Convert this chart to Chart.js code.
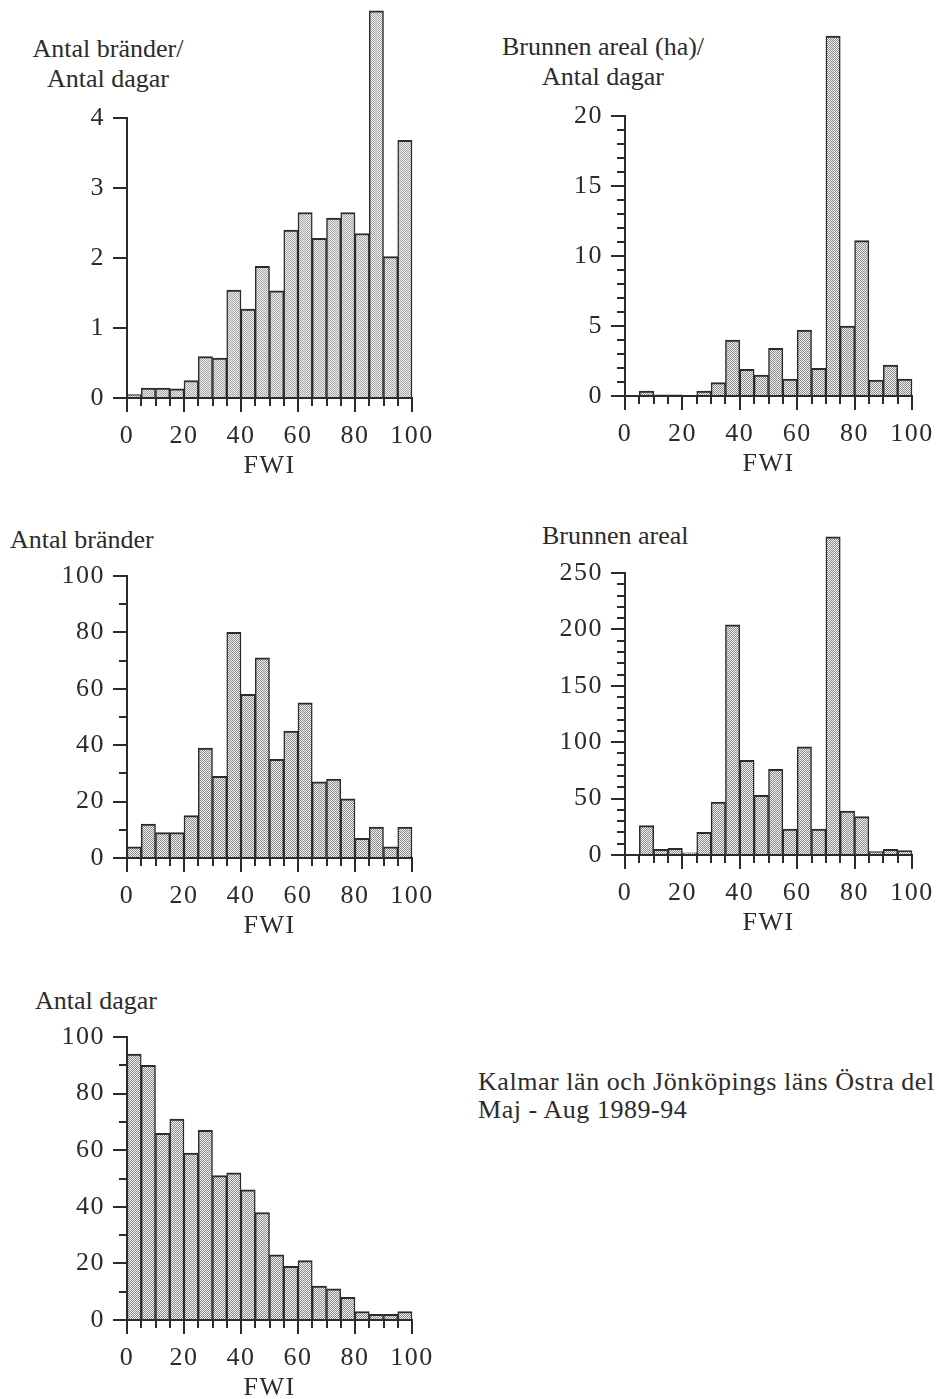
<!DOCTYPE html>
<html>
<head>
<meta charset="utf-8">
<script src="https://cdn.jsdelivr.net/npm/chart.js@4.4.1/dist/chart.umd.min.js"></script>
<style>
  html, body { margin: 0; padding: 0; background: #fff; }
  #page {
    position: relative; width: 939px; height: 1399px; overflow: hidden; background: #fff;
    font-family: "Liberation Serif", "Times New Roman", serif; color: #2b2b2b;
  }
  .lbl { position: absolute; font-size: 26px; line-height: 30px; white-space: nowrap; }
  .center { text-align: center; }
  canvas { position: absolute; }
</style>
</head>
<body>
<div id="page">
  <div class="lbl center" style="left:8px; top:34px; width:200px;">Antal bränder/<br>Antal dagar</div>
  <div class="lbl center" style="left:498px; top:32px; width:210px;">Brunnen areal (ha)/<br>Antal dagar</div>
  <div class="lbl" style="left:10px; top:525px;">Antal bränder</div>
  <div class="lbl" style="left:542px; top:521px;">Brunnen areal</div>
  <div class="lbl" style="left:35px; top:986px;">Antal dagar</div>
  <div class="lbl" style="left:478px; top:1068px; line-height:28px; letter-spacing:0.55px;">Kalmar län och Jönköpings läns Östra del<br>Maj - Aug 1989-94</div>
</div>
<script>
// FWI classes, 5 units wide, from 0 to 100
const BIN_WIDTH = 5;
const fwiBinStart = [0, 5, 10, 15, 20, 25, 30, 35, 40, 45, 50, 55, 60, 65, 70, 75, 80, 85, 90, 95];

// Fires per day in each FWI class
const brandPerDag = [0.05, 0.14, 0.14, 0.13, 0.25, 0.59, 0.57, 1.54, 1.27, 1.88,
                     1.53, 2.40, 2.65, 2.28, 2.57, 2.65, 2.35, 5.53, 2.02, 3.68];
// Burnt area (ha) per day in each FWI class
const arealPerDag = [0, 0.36, 0.08, 0.08, 0, 0.36, 0.95, 4.0, 1.9, 1.5,
                     3.4, 1.2, 4.7, 1.97, 25.7, 5.0, 11.1, 1.14, 2.2, 1.2];
// Number of fires
const antalBrander = [4, 12, 9, 9, 15, 39, 29, 80, 58, 71,
                      35, 45, 55, 27, 28, 21, 7, 11, 4, 11];
// Burnt area (ha)
const brunnenAreal = [0, 26, 5, 6, 2, 20, 47, 204, 84, 53,
                      76, 23, 96, 23, 282, 39, 34, 3, 5, 4];
// Number of days
const antalDagar = [94, 90, 66, 71, 59, 67, 51, 52, 46, 38,
                    23, 19, 21, 12, 11, 8, 3, 2, 2, 3];

// Axis tick steps
const xTickStep = 20, xMinorStep = 5;

const INK = '#2b2b2b';
const FONT = '"Liberation Serif", "Times New Roman", serif';

// Stippled fill like a printed halftone
function stipple(dark, light) {
  const c = document.createElement('canvas');
  c.width = 2; c.height = 2;
  const g = c.getContext('2d');
  g.fillStyle = light; g.fillRect(0, 0, 2, 2);
  g.fillStyle = dark; g.fillRect(0, 0, 1, 1); g.fillRect(1, 1, 1, 1);
  return g.createPattern(c, 'repeat');
}

// Short minor tick marks on both axes
const minorTicks = {
  id: 'minorTicks',
  afterDraw(chart, args, opts) {
    const { ctx, scales: { x, y } } = chart;
    ctx.save();
    ctx.strokeStyle = INK;
    ctx.lineWidth = 2;
    ctx.beginPath();
    for (let v = x.min; v <= x.max; v += opts.xStep) {
      if (v % opts.xMajor === 0) continue;
      const px = Math.round(x.getPixelForValue(v));
      ctx.moveTo(px, y.bottom); ctx.lineTo(px, y.bottom + opts.len);
    }
    if (opts.yStep) {
      for (let v = y.min; v <= y.max + 1e-9; v += opts.yStep) {
        if (Math.abs(v / opts.yMajor - Math.round(v / opts.yMajor)) < 1e-9) continue;
        const py = Math.round(y.getPixelForValue(v));
        ctx.moveTo(x.left, py); ctx.lineTo(x.left - opts.len, py);
      }
    }
    ctx.stroke();
    ctx.restore();
  }
};

// Wider letter spacing for the axis lettering
const spacing = {
  id: 'spacing',
  beforeUpdate(chart) { chart.ctx.letterSpacing = '1.5px'; },
  beforeDraw(chart) { chart.ctx.letterSpacing = '1.5px'; }
};

const PAD_L = 110, PAD_T = 115, PAD_R = 35, PAD_B = 85;

function histogram(box, values, yMax, yStep, yMinor, fill) {
  const cv = document.createElement('canvas');
  const w = box.R - box.L + PAD_L + PAD_R;
  const h = box.B - box.T + PAD_T + PAD_B;
  cv.width = w; cv.height = h;
  cv.style.left = (box.L - PAD_L) + 'px';
  cv.style.top = (box.T - PAD_T) + 'px';
  cv.style.width = w + 'px'; cv.style.height = h + 'px';
  document.getElementById('page').appendChild(cv);

  const tickFont = { family: FONT, size: 26 };
  return new Chart(cv, {
    type: 'bar',
    data: {
      datasets: [{
        data: fwiBinStart.map((s, i) => ({ x: s + BIN_WIDTH / 2, y: values[i] })),
        backgroundColor: fill,
        borderColor: INK,
        borderWidth: { top: 2, left: 1.5, right: 1.5, bottom: 0 },
        borderSkipped: 'start',
        barPercentage: 1,
        categoryPercentage: 1,
        clip: false
      }]
    },
    options: {
      responsive: false,
      animation: false,
      events: [],
      devicePixelRatio: 1,
      layout: { padding: { left: 0, top: PAD_T, right: PAD_R, bottom: 0 } },
      plugins: {
        legend: { display: false },
        tooltip: { enabled: false },
        minorTicks: { xStep: xMinorStep, xMajor: xTickStep, yStep: yMinor, yMajor: yStep, len: 8 }
      },
      scales: {
        x: {
          type: 'linear',
          min: 0, max: 100,
          offset: false,
          afterFit(s) { s.height = PAD_B; },
          border: { color: INK, width: 2 },
          grid: { drawOnChartArea: false, offset: false, tickLength: 14, color: INK, lineWidth: 2 },
          ticks: { stepSize: xTickStep, color: INK, font: tickFont, padding: 9, maxRotation: 0 },
          title: { display: true, text: 'FWI', color: INK, font: tickFont, padding: { top: 0, bottom: 1 } }
        },
        y: {
          min: 0, max: yMax,
          afterFit(s) { s.width = PAD_L; },
          border: { color: INK, width: 2 },
          grid: { drawOnChartArea: false, tickLength: 14, color: INK, lineWidth: 2 },
          ticks: { stepSize: yStep, color: INK, font: tickFont, padding: 8 }
        }
      }
    },
    plugins: [minorTicks, spacing]
  });
}

histogram({ L: 127, T: 118, R: 412, B: 398 }, brandPerDag, 4, 1, null, stipple('#a8a8a8', '#ececec'));
histogram({ L: 625, T: 116, R: 912, B: 396 }, arealPerDag, 20, 5, 1, stipple('#8c8c8c', '#f0f0f0'));
histogram({ L: 127, T: 576, R: 412, B: 858 }, antalBrander, 100, 20, 10, stipple('#8c8c8c', '#f0f0f0'));
histogram({ L: 625, T: 573, R: 912, B: 855 }, brunnenAreal, 250, 50, 10, stipple('#8c8c8c', '#f0f0f0'));
histogram({ L: 127, T: 1037, R: 412, B: 1320 }, antalDagar, 100, 20, 10, stipple('#8c8c8c', '#f0f0f0'));
</script>
</body>
</html>
